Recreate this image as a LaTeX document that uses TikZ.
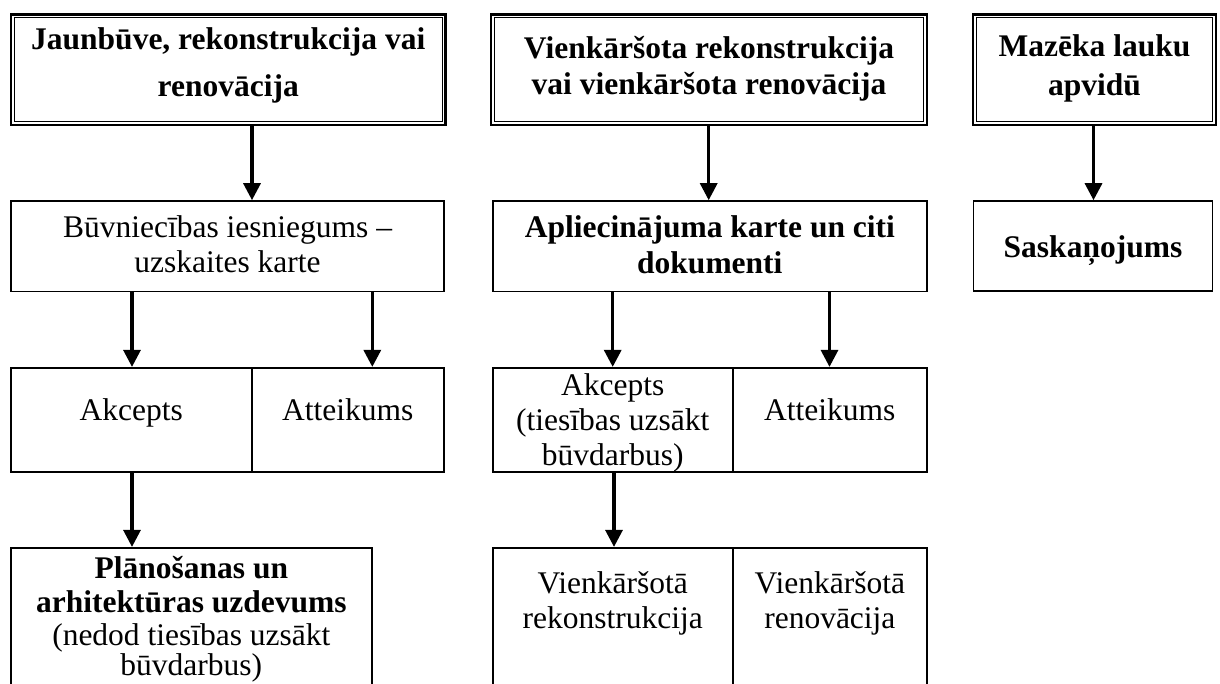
\documentclass[tikz,border=0pt]{standalone}
\usepackage{fontspec}
\setmainfont{Liberation Serif}
\usetikzlibrary{arrows.meta}
\begin{document}
\begin{tikzpicture}[x=1pt,y=-1pt,
  titlebox/.style={draw, line width=2.4pt, inner sep=0pt},
  box/.style={draw, line width=1.6pt, inner sep=0pt},
  txt/.style={anchor=base, inner sep=0pt, font=\fontsize{31.5}{36}\selectfont},
  btxt/.style={txt, font=\fontsize{31.5}{36}\selectfont\bfseries},
  arr/.style={line width=3.2pt, -{Triangle[width=17pt,length=17pt]}}]
\useasboundingbox (0,0) rectangle (1220,684);
\fill[white] (0,0) rectangle (1220,684);
\clip (0,0) rectangle (1220,684);

% title boxes
\node[titlebox, minimum width=434.1pt, minimum height=110.3pt] (b1) at (228.25,69.65) {};
\node[titlebox, minimum width=435.6pt, minimum height=110.3pt] (b2) at (709,69.65) {};
\node[titlebox, minimum width=242.6pt, minimum height=110.3pt] (b3) at (1094.5,69.65) {};
\foreach \n in {b1,b2,b3}
  \draw[line width=0.9pt] ([xshift=4.4pt,yshift=-4.4pt]\n.north west) rectangle ([xshift=-4.4pt,yshift=4.4pt]\n.south east);

% row 2
\node[box, minimum width=433pt, minimum height=90.7pt] (b4) at (227.5,246.35) {};
\node[box, minimum width=434.3pt, minimum height=90.7pt] (b5) at (709.85,246.35) {};
\node[box, minimum width=239pt, minimum height=90pt] (b6) at (1093,246) {};

% row 3
\node[box, minimum width=240.7pt, minimum height=104pt] (b7) at (131.35,419.7) {};
\node[box, minimum width=192.3pt, minimum height=104pt] (b8) at (347.85,419.7) {};
\node[box, minimum width=240pt, minimum height=104pt] (b9) at (612.7,419.7) {};
\node[box, minimum width=194.3pt, minimum height=104pt] (b10) at (829.85,419.7) {};

% row 4
\node[box, minimum width=360.7pt, minimum height=172.3pt] (b11) at (191.35,633.85) {};
\node[box, minimum width=240pt, minimum height=172.3pt] (b12) at (612.7,633.85) {};
\node[box, minimum width=194.3pt, minimum height=172.3pt] (b13) at (829.85,633.85) {};

% texts
\node[btxt] (t1a) at (228.25,50) {Jaunbūve, rekonstrukcija vai};
\node[btxt] (t1b) at (228.25,97) {renovācija};
\node[btxt] (t2a) at (709,59) {Vienkāršota rekonstrukcija};
\node[btxt] (t2b) at (709,95) {vai vienkāršota renovācija};
\node[btxt] (t3a) at (1094.5,57) {Mazēka lauku};
\node[btxt] (t3b) at (1094.5,96) {apvidū};

\node[txt] (t4a) at (227.5,238) {Būvniecības iesniegums –};
\node[txt] (t4b) at (227.5,273) {uzskaites karte};
\node[btxt] (t5a) at (709.85,238) {Apliecinājuma karte un citi};
\node[btxt] (t5b) at (709.85,274) {dokumenti};
\node[btxt] (t6) at (1093,258) {Saskaņojums};

\node[txt] (t7) at (131.35,420) {Akcepts};
\node[txt] (t8) at (347.85,420) {Atteikums};
\node[txt] (t9a) at (612.7,395) {Akcepts};
\node[txt] (t9b) at (612.7,430) {(tiesības uzsākt};
\node[txt] (t9c) at (612.7,465) {būvdarbus)};
\node[txt] (t10) at (829.85,420) {Atteikums};

\node[btxt] (t11a) at (191.35,578) {Plānošanas un};
\node[btxt] (t11b) at (191.35,612) {arhitektūras uzdevums};
\node[txt] (t11c) at (191.35,645) {(nedod tiesības uzsākt};
\node[txt] (t11d) at (191.35,675) {būvdarbus)};
\node[txt] (t12a) at (612.7,593) {Vienkāršotā};
\node[txt] (t12b) at (612.7,628) {rekonstrukcija};
\node[txt] (t13a) at (829.85,593) {Vienkāršotā};
\node[txt] (t13b) at (829.85,628) {renovācija};

% arrow x positions
\coordinate (x1) at (252,0);
\coordinate (x2) at (708.7,0);
\coordinate (x3) at (1093.5,0);
\coordinate (x4) at (132,0);
\coordinate (x5) at (372.3,0);
\coordinate (x6) at (612.7,0);
\coordinate (x7) at (829.5,0);
\coordinate (x8) at (614,0);

\draw[arr] (b1.south -| x1) -- (b4.north -| x1);
\draw[arr] (b2.south -| x2) -- (b5.north -| x2);
\draw[arr] (b3.south -| x3) -- (b6.north -| x3);
\draw[arr] (b4.south -| x4) -- (b7.north -| x4);
\draw[arr] (b4.south -| x5) -- (b8.north -| x5);
\draw[arr] (b5.south -| x6) -- (b9.north -| x6);
\draw[arr] (b5.south -| x7) -- (b10.north -| x7);
\draw[arr] (b7.south -| x4) -- (b11.north -| x4);
\draw[arr] (b9.south -| x8) -- (b12.north -| x8);
\end{tikzpicture}
\end{document}
